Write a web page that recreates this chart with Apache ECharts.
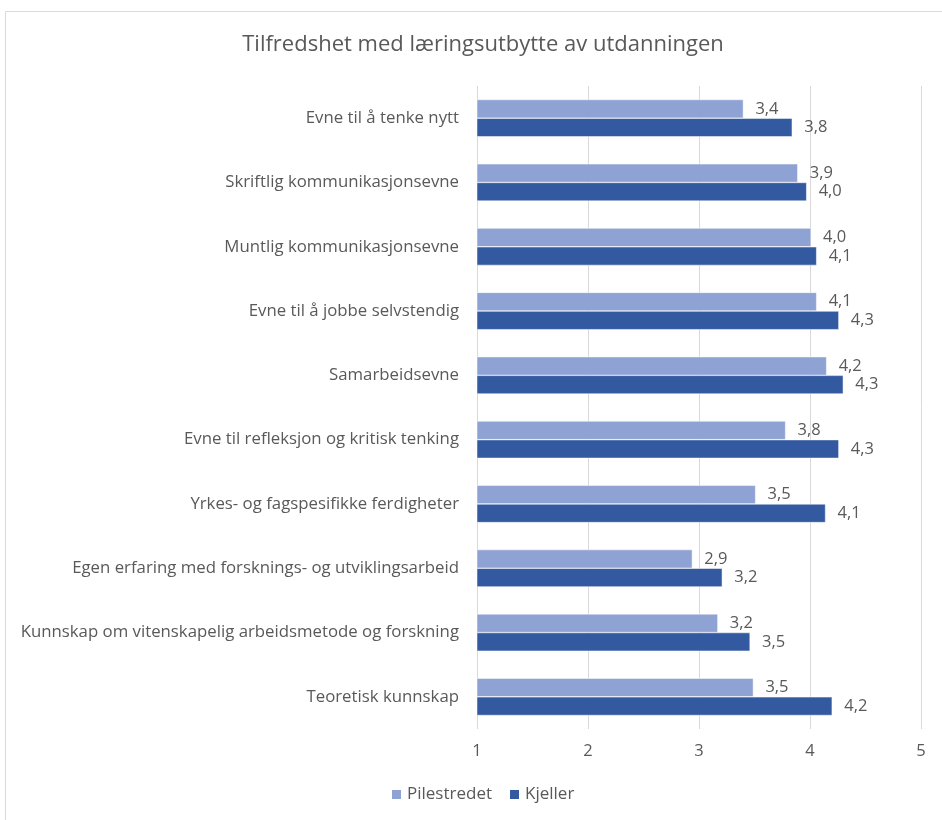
<!DOCTYPE html>
<html>
<head>
<meta charset="utf-8">
<script src="https://cdn.jsdelivr.net/npm/echarts@6/dist/echarts.min.js"></script>
<style>html,body{margin:0;padding:0;background:#fff}#c{width:942px;height:820px}</style>
</head>
<body>
<div id="c"></div>
<script>
const categories = [
  "Evne til å tenke nytt",
  "Skriftlig kommunikasjonsevne",
  "Muntlig kommunikasjonsevne",
  "Evne til å jobbe selvstendig",
  "Samarbeidsevne",
  "Evne til refleksjon og kritisk tenking",
  "Yrkes- og fagspesifikke ferdigheter",
  "Egen erfaring med forsknings- og utviklingsarbeid",
  "Kunnskap om vitenskapelig arbeidsmetode og forskning",
  "Teoretisk kunnskap"
];
const pilestredet = [3.40, 3.89, 4.01, 4.06, 4.15, 3.78, 3.51, 2.94, 3.17, 3.49];
const kjeller     = [3.84, 3.97, 4.06, 4.26, 4.30, 4.26, 4.14, 3.21, 3.46, 4.20];
const xTicks = [1, 2, 3, 4, 5];

const FONT = 'Open Sans';
const TXT = '#595959';
const fmt = p => p.value.toFixed(1).replace('.', ',');

const chart = echarts.init(document.getElementById('c'));
chart.setOption({
  animation: false,
  textStyle: { fontFamily: FONT },
  title: {
    text: 'Tilfredshet med læringsutbytte av utdanningen',
    left: 478, top: 29, textAlign: 'center',
    textStyle: { fontFamily: FONT, fontSize: 22, fontWeight: 'normal', color: TXT }
  },
  graphic: [
    { type: 'line', shape: { x1: 5.5, y1: 11.5, x2: 942, y2: 11.5 }, style: { stroke: '#d9d9d9', lineWidth: 1 } },
    { type: 'line', shape: { x1: 5.5, y1: 11.5, x2: 5.5, y2: 820 }, style: { stroke: '#d9d9d9', lineWidth: 1 } }
  ],
  legend: {
    bottom: 12, left: 385,
    itemWidth: 11, itemHeight: 11, itemGap: 16,
    icon: 'rect',
    textStyle: { fontFamily: FONT, fontSize: 17, color: TXT },
    data: ['Pilestredet', 'Kjeller']
  },
  grid: { left: 477, right: 21, top: 86, bottom: 91, containLabel: false },
  xAxis: {
    type: 'value', min: 1, max: 5, interval: 1,
    axisLine: { show: false },
    axisTick: { show: false },
    splitLine: { show: true, lineStyle: { color: '#d9d9d9', width: 1 } },
    axisLabel: { fontFamily: FONT, fontSize: 16.5, color: TXT, margin: 14,
      formatter: v => xTicks.includes(v) ? String(v) : '' }
  },
  yAxis: {
    type: 'category', inverse: true, data: categories,
    axisLine: { show: false }, axisTick: { show: false },
    axisLabel: { fontFamily: FONT, fontSize: 16.8, color: TXT, margin: 18 }
  },
  series: [
    {
      name: 'Pilestredet', type: 'bar', data: pilestredet,
      barWidth: '29%', barGap: '0%',
      itemStyle: { color: '#8FA2D4', borderColor: '#ffffff', borderWidth: 0.5 },
      label: { show: true, position: 'right', distance: 12, formatter: fmt,
        fontFamily: FONT, fontSize: 16.5, color: TXT }
    },
    {
      name: 'Kjeller', type: 'bar', data: kjeller,
      barWidth: '29%', barGap: '0%',
      itemStyle: { color: '#335AA1', borderColor: '#ffffff', borderWidth: 0.5 },
      label: { show: true, position: 'right', distance: 12, formatter: fmt,
        fontFamily: FONT, fontSize: 16.5, color: TXT }
    }
  ]
});
</script>
</body>
</html>
